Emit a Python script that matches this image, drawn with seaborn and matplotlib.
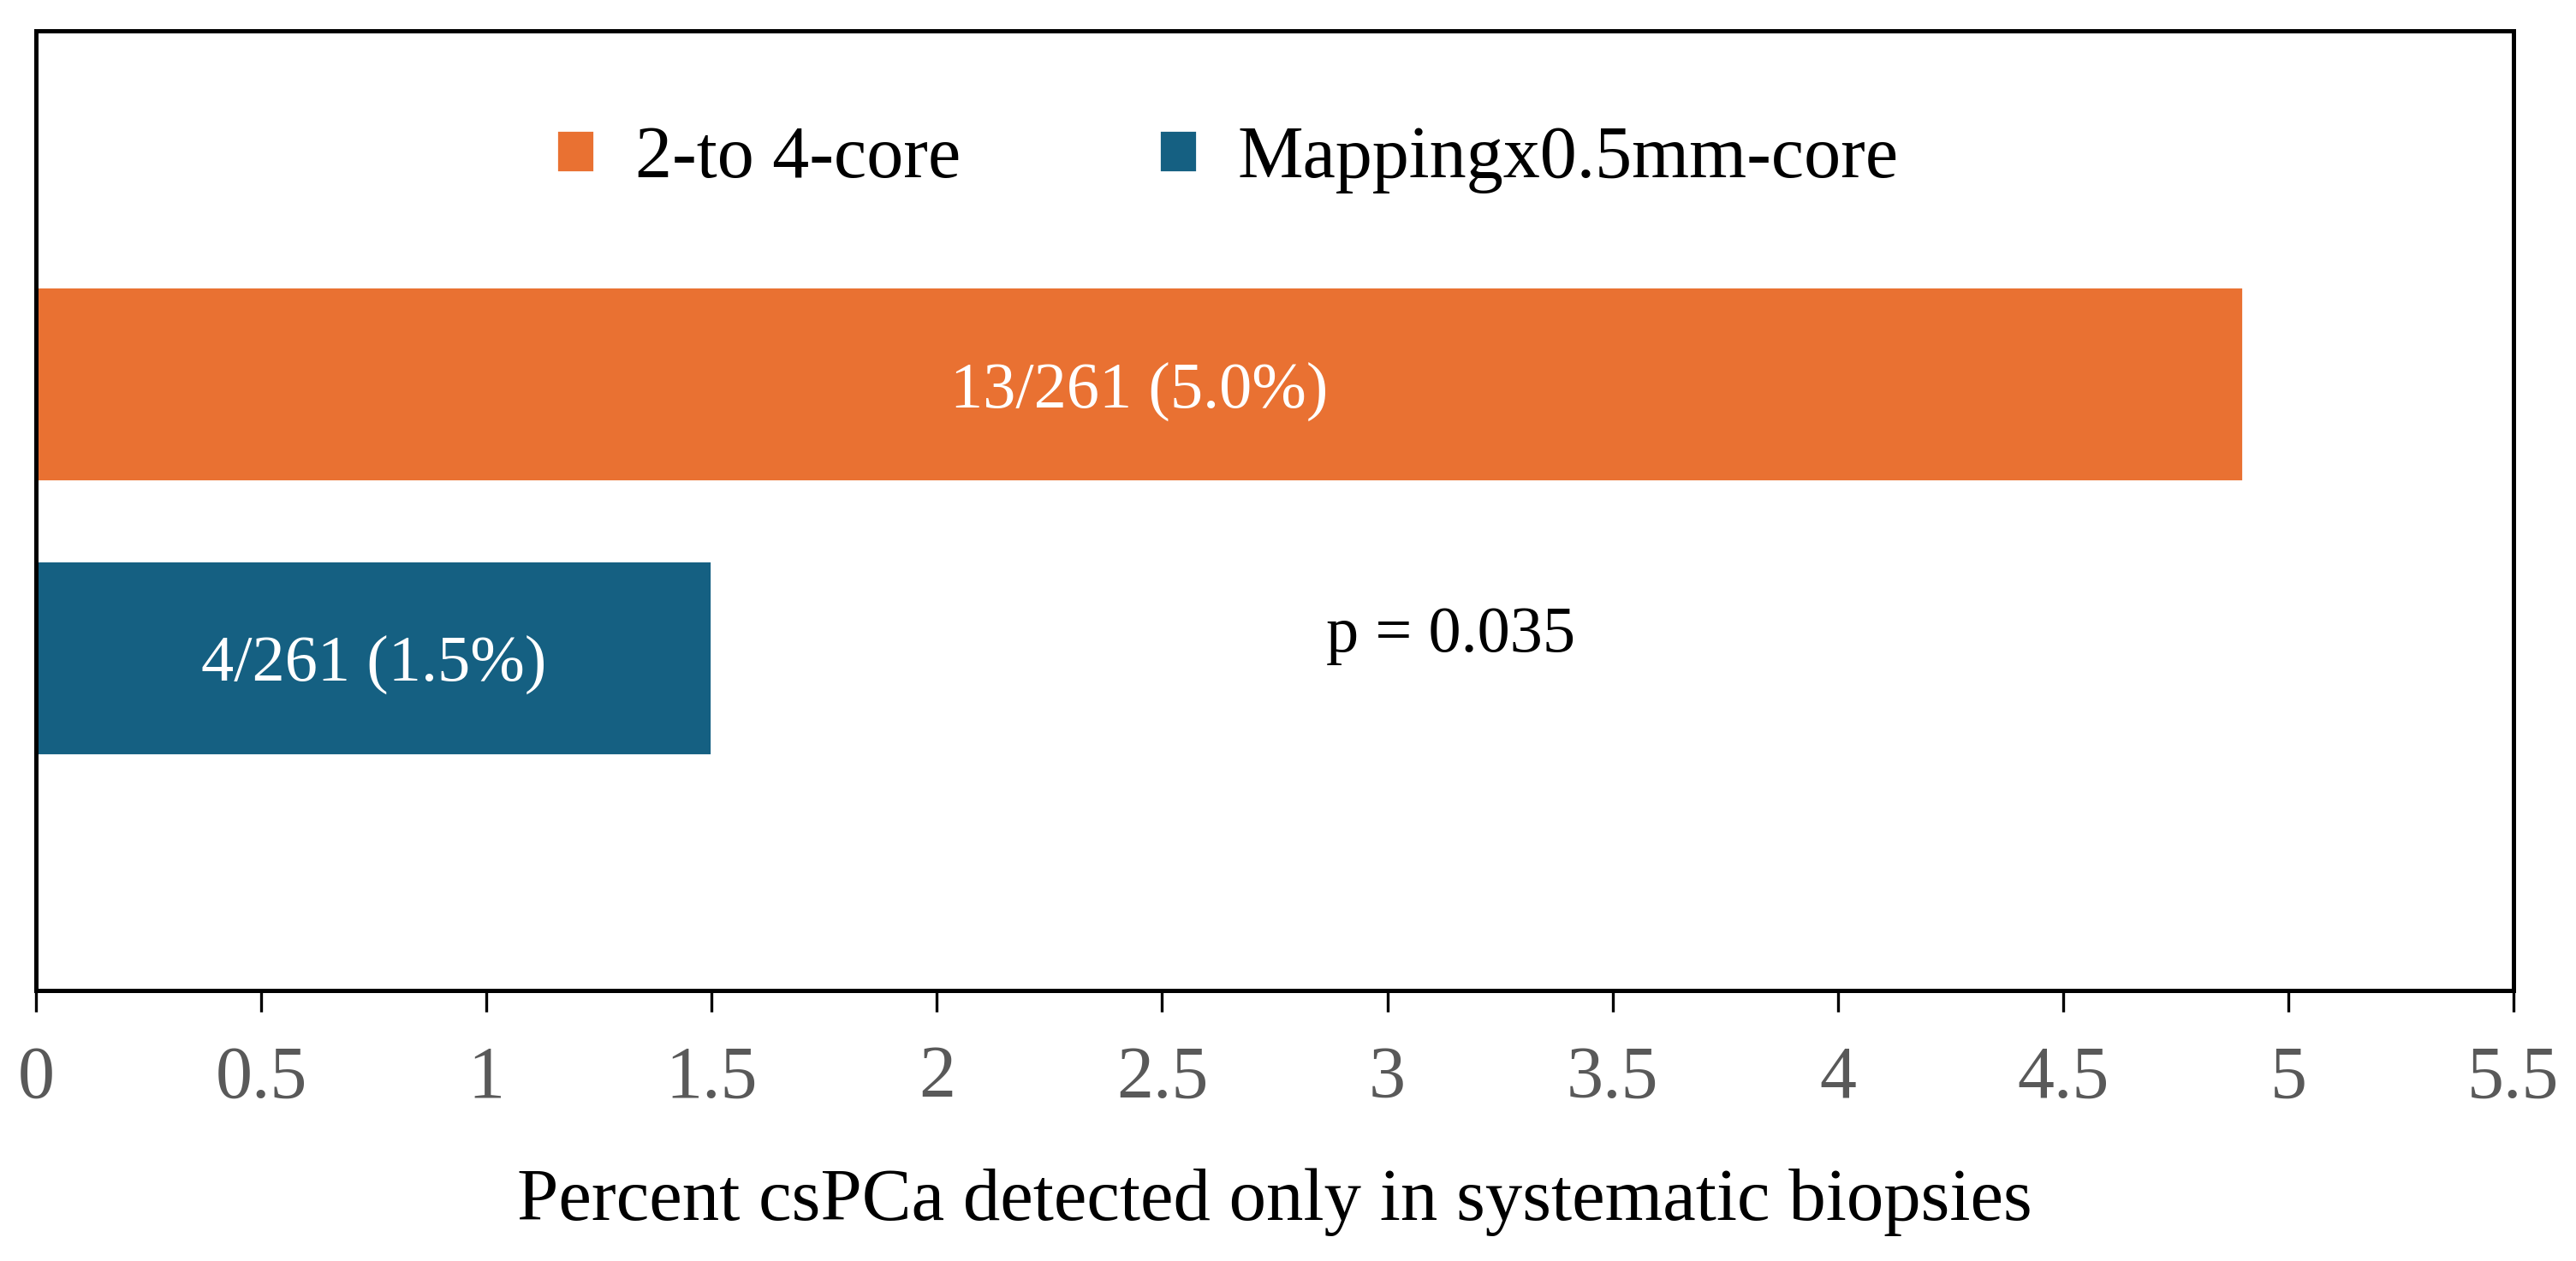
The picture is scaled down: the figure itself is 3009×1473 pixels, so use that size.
import numpy as np
import pandas as pd
import matplotlib
matplotlib.use('Agg')
import matplotlib.pyplot as plt
import seaborn as sns

# data
groups = ['2-to 4-core', 'Mappingx0.5mm-core']
percent = [4.9, 1.5]
bar_text = ['13/261 (5.0%)', '4/261 (1.5%)']
colors = ['#E97132', '#156082']
xticks = [0, 0.5, 1, 1.5, 2, 2.5, 3, 3.5, 4, 4.5, 5, 5.5]
p_text = 'p = 0.035'
xlabel = 'Percent csPCa detected only in systematic biopsies'

sns.set_style('white')
plt.rcParams['font.family'] = ['Liberation Serif', 'DejaVu Serif']
plt.rcParams['text.color'] = 'black'
plt.rcParams['axes.labelcolor'] = 'black'

df = pd.DataFrame({'group': groups, 'percent': percent})

fig = plt.figure(figsize=(15.045, 7.365), dpi=200)
ax = fig.add_axes([0.014, 0.2145, 0.9617, 0.761])

sns.barplot(data=df, x='percent', y='group', hue='group', order=groups,
            hue_order=groups, palette=colors, width=0.709, saturation=1,
            legend=True, ax=ax)

for cont, txt in zip(ax.containers, bar_text):
    labs = ax.bar_label(cont, labels=[txt], label_type='center', color='white',
                        fontsize=27.5)
    for lab in labs:
        lab.set_verticalalignment('center_baseline')

ax.text(3.14, 0.92, p_text, ha='center', va='center', fontsize=27.5, color='black')

ax.set_xlim(0, 5.5)
ax.set_ylim(2.216, -1.291)
ax.set_xticks(xticks)
ax.set_xticklabels(['%g' % t for t in xticks])
ax.set_yticks([])
ax.set_ylabel('')
ax.set_xlabel(xlabel, fontsize=31.3, labelpad=23, color='black')
ax.tick_params(axis='x', bottom=True, direction='out', length=9, width=1.2,
               colors='black', labelcolor='#595959', labelsize=31, pad=14)

for s in ax.spines.values():
    s.set_visible(True)
    s.set_color('black')
    s.set_linewidth(1.8)

leg = ax.legend(loc='center', bbox_to_anchor=(0.481, 0.866), ncol=2, frameon=False,
                fontsize=31, handlelength=0.51, handleheight=0.51,
                handletextpad=0.55, columnspacing=2.7)
for t in leg.get_texts():
    t.set_color('black')

fig.savefig('out.png', dpi=200)
